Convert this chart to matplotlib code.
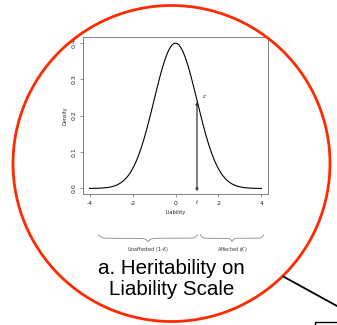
import numpy as np
import matplotlib
matplotlib.use("Agg")
import matplotlib.pyplot as plt
from matplotlib import transforms
from matplotlib.patches import Ellipse, Rectangle

# ---- data ----
liability = np.linspace(-4, 4, 801)
density = np.exp(-liability**2 / 2) / np.sqrt(2 * np.pi)
threshold_t = 1.0
z_value = np.exp(-threshold_t**2 / 2) / np.sqrt(2 * np.pi)
x_ticks = [-4, -2, 0, 2, 4]
x_ticklabels = ["-4", "-2", "0", "2", "4"]
y_ticks = [0.0, 0.1, 0.2, 0.3, 0.4]
y_ticklabels = ["0.0", "0.1", "0.2", "0.3", "0.4"]
group_labels = ["Unaffected (1-$K$)", "Affected ($K$)"]
group_spans = [(-3.58, threshold_t + 0.03), (threshold_t + 0.16, 4.1)]
title_text = "a. Heritability on\nLiability Scale"

W, H = 337, 325
fig = plt.figure(figsize=(W / 100, H / 100), dpi=100)

# main plot
ax = fig.add_axes([82.7 / W, 1 - 194.3 / H, (268.3 - 82.7) / W, (194.3 - 37.3) / H])
ax.plot(liability, density, color="black", lw=0.8)
ax.set_xlim(-4.32, 4.32)
ax.set_ylim(-0.016, 0.415)
for s in ax.spines.values():
    s.set_color("#808080")
    s.set_linewidth(0.7)
ax.set_xticks(x_ticks)
ax.set_xticklabels(x_ticklabels)
ax.set_yticks(y_ticks)
ax.set_yticklabels(y_ticklabels, rotation=90, va="center")
ax.tick_params(axis="both", length=2.0, width=0.6, color="#808080",
               labelsize=4.4, labelcolor="#222222")
ax.tick_params(axis="x", pad=2.6)
ax.tick_params(axis="y", pad=2.6)
ax.set_xlabel("Liability", fontsize=3.7, color="#222222", labelpad=3.0)
ax.set_ylabel("Density", fontsize=3.5, color="#222222", labelpad=3.0)

# arrow from threshold to density
ax.annotate("", xy=(threshold_t, z_value - 0.004), xytext=(threshold_t, -0.008),
            arrowprops=dict(arrowstyle="<|-|>", color="#333333", lw=0.9,
                            mutation_scale=3.5, shrinkA=0, shrinkB=0))
ax.annotate("$z$", xy=(threshold_t, z_value), xytext=(5.5, 2.5),
            textcoords="offset points", fontsize=3.5, color="#222222",
            ha="center", va="center")

# overlay axes in pixel coordinates
ov = fig.add_axes([0, 0, 1, 1], zorder=5)
ov.set_xlim(0, W)
ov.set_ylim(H, 0)
ov.axis("off")
ov.patch.set_alpha(0)

blend = transforms.blended_transform_factory(ax.transData, ov.transData)
ov.text(threshold_t, 201.7, "$t$", transform=blend, fontsize=3.8,
        ha="center", va="center", color="#222222")

# braces
def brace(x0, x1, ytop, ybot):
    u = np.linspace(0, 0.5, 200)
    beta = 60.0
    half = 1 / (1 + np.exp(-beta * (u - u[0]))) + 1 / (1 + np.exp(-beta * (u - u[-1])))
    yv = np.concatenate([half, half[-2::-1]])
    xv = np.linspace(x0, x1, len(yv))
    yv = ytop + (yv - 0.5) * (ybot - ytop)
    ov.plot(xv, yv, transform=blend, color="#8a8a8a", lw=0.6, clip_on=False)

for (a, b), lab in zip(group_spans, group_labels):
    brace(a, b, 235.0, 241.5)
    ov.text((a + b) / 2, 250.0, lab, transform=blend, fontsize=3.5,
            ha="center", va="center", color="#333333")

ov.text(171.5, 279, title_text, fontsize=14.8, ha="center", va="center",
        family="Liberation Sans", linespacing=1.13, color="black")

# red circle, connector line, partial box
ov.add_patch(Ellipse((171.5, 163.5), 317, 316, fill=False, ec="#ff2a00", lw=2.0))
ov.plot([283.3, 337], [276.5, 306], color="black", lw=1.3, clip_on=False)
ov.add_patch(Rectangle((314.5, 322.3), 30, 10, fill=False, ec="black", lw=1.0))

fig.savefig("out.png", dpi=100)
